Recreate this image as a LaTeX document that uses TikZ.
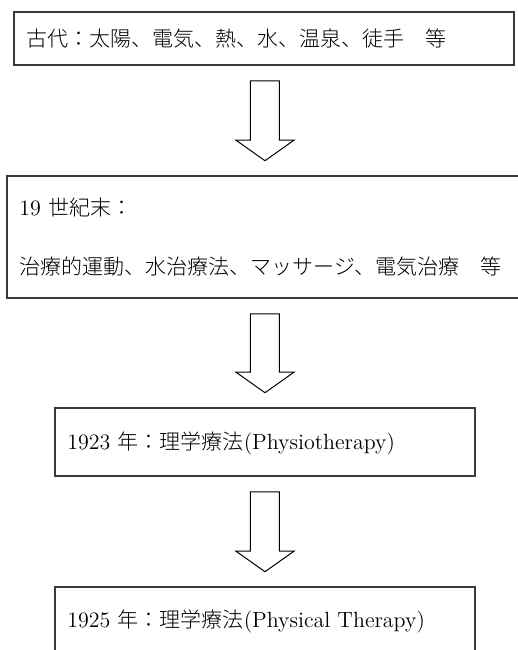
\documentclass[tikz,border=0pt]{standalone}
\usepackage{fontspec}
\newfontfamily\jp{Noto Sans CJK JP Light}[Scale=0.955]
\usetikzlibrary{calc}
\definecolor{boxline}{HTML}{3A3A3A}
\tikzset{
  stage/.style={draw=boxline, line width=0.8pt, inner sep=0pt, fill=none},
  label/.style={anchor=base west, inner sep=0pt, font=\fontsize{11}{13.2}\selectfont, text=black},
  blockarr/.style={draw=black, line width=0.5pt, fill=white, line join=miter}
}
\newcommand\blockarrow[2]{%
  \coordinate (#1-top) at ($(#1.south -| b3.center)+(0,15)$);
  \coordinate (#1-tip) at ($(#2.north -| b3.center)+(0,-14.5)$);
  \draw[blockarr] ($(#1-top)+(-14.5,0)$) -- ($(#1-top)+(14.5,0)$)
    -- ($(#1-tip)+(14.5,-20.5)$) -- ($(#1-tip)+(29,-20.5)$) -- (#1-tip)
    -- ($(#1-tip)+(-29,-20.5)$) -- ($(#1-tip)+(-14.5,-20.5)$) -- cycle;
}
\begin{document}
\begin{tikzpicture}[x=0.5pt, y=-0.5pt]
\useasboundingbox (0,0) rectangle (518,650);
\clip (0,0) rectangle (518,650);
% boxes
\node[stage, minimum width=250pt, minimum height=26.5pt] (b1) at (264,38.5) {};
\node[stage, minimum width=259.5pt, minimum height=61pt] (b2) at (266.5,237) {};
\node[stage, minimum width=210pt, minimum height=34pt] (b3) at (265,442) {};
\node[stage, minimum width=210pt, minimum height=34pt] (b4) at (265,621) {};
% texts
\node[label] (t1) at (26,46) {{\jp 古代：太陽、電気、熱、水、温泉、徒手　等}};
\node[label] (t2a) at (19,215) {19 {\jp 世紀末：}};
\node[label] (t2b) at (19,274) {{\jp 治療的運動、水治療法、マッサージ、電気治療　等}};
\node[label] (t3) at (67,449) {1923 {\jp 年：理学療法}(Physiotherapy)};
\node[label] (t4) at (67,627) {1925 {\jp 年：理学療法}(Physical Therapy)};
% block arrows
\blockarrow{b1}{b2}
\blockarrow{b2}{b3}
\blockarrow{b3}{b4}
\end{tikzpicture}
\end{document}
